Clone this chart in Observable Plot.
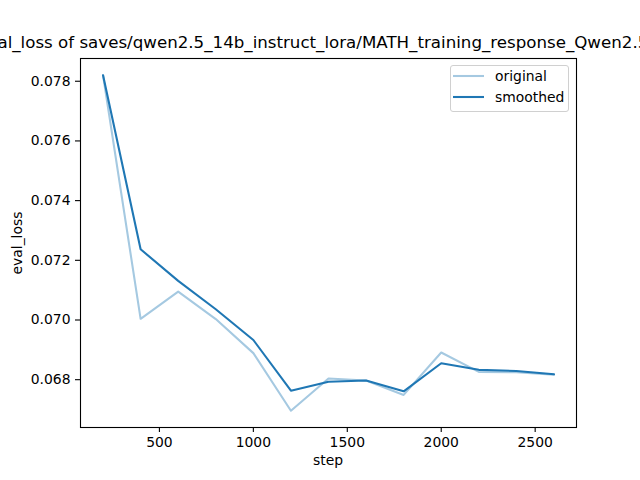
<!DOCTYPE html>
<html>
<head>
<meta charset="utf-8">
<script src="https://cdn.jsdelivr.net/npm/d3@7"></script>
<script src="https://cdn.jsdelivr.net/npm/@observablehq/plot@0.6"></script>
<style>
  html, body { margin: 0; padding: 0; background: #fff; }
  #wrap { position: relative; width: 640px; height: 480px; overflow: hidden; font-family: "DejaVu Sans", sans-serif; color: #000; }
  #title { position: absolute; left: 328px; top: 35.4px; transform: translateX(-50%); white-space: nowrap; font-size: 16.67px; line-height: 1; }
  #xlabel { position: absolute; left: 328px; top: 454px; transform: translateX(-50%); font-size: 13.9px; line-height: 1; white-space: nowrap; }
  #ylabel { position: absolute; left: 18px; top: 242.5px; transform: translate(-50%, -50%) rotate(-90deg); font-size: 13.9px; line-height: 1; white-space: nowrap; }
  #legend { position: absolute; left: 450px; top: 65px; width: 117px; height: 45px; border: 1px solid #d0d0d0; border-radius: 3px; background: rgba(255,255,255,0.8); font-size: 13.9px; }
  .row { position: absolute; left: 0; height: 16px; line-height: 16px; }
  .row svg { position: absolute; left: 2px; top: 0; }
  .row span { position: absolute; left: 44px; top: 0; white-space: nowrap; }
</style>
</head>
<body>
<div id="wrap">
  <div id="chart"></div>
  <div id="title"></div>
  <div id="xlabel"></div>
  <div id="ylabel"></div>
  <div id="legend"></div>
</div>
<script>
const titleText = "eval_loss of saves/qwen2.5_14b_instruct_lora/MATH_training_response_Qwen2.5_7B";
const xLabel = "step";
const yLabel = "eval_loss";
const seriesNames = ["original", "smoothed"];
const seriesColors = ["#a5c9e1", "#1f77b4"];

const steps = [200, 400, 600, 800, 1000, 1200, 1400, 1600, 1800, 2000, 2200, 2400, 2600];
const original = [0.0782, 0.07004, 0.07095, 0.07003, 0.06889, 0.06696, 0.06804, 0.06797, 0.06749, 0.06891, 0.06826, 0.06825, 0.06817];
const smoothed = [0.0782, 0.07237, 0.07131, 0.07036, 0.06933, 0.06763, 0.06793, 0.06797, 0.06761, 0.06855, 0.06833, 0.06829, 0.06818];

const xTicks = [500, 1000, 1500, 2000, 2500];
const yTicks = [0.068, 0.070, 0.072, 0.074, 0.076, 0.078];

const origData = steps.map((s, i) => ({step: s, value: original[i]}));
const smoothData = steps.map((s, i) => ({step: s, value: smoothed[i]}));

const allVals = original.concat(smoothed);
const yMin = d3.min(allVals), yMax = d3.max(allVals);
const yPad = (yMax - yMin) * 0.05;
const xMin = d3.min(steps), xMax = d3.max(steps);
const xPad = (xMax - xMin) * 0.05;

const chart = Plot.plot({
  width: 640,
  height: 480,
  marginLeft: 80,
  marginRight: 64,
  marginTop: 58,
  marginBottom: 53,
  style: { fontFamily: "DejaVu Sans", fontSize: "13.9px", color: "#000", background: "#fff", overflow: "visible" },
  x: { domain: [xMin - xPad, xMax + xPad] },
  y: { domain: [yMin - yPad, yMax + yPad] },
  marks: [
    Plot.line(origData, { x: "step", y: "value", stroke: seriesColors[0], strokeWidth: 2.08 }),
    Plot.line(smoothData, { x: "step", y: "value", stroke: seriesColors[1], strokeWidth: 2.08 }),
    Plot.frame({ stroke: "#000", strokeWidth: 1.1 }),
    Plot.axisX({ ticks: xTicks, tickFormat: d3.format("d"), tickSize: 5, tickPadding: 5, strokeWidth: 1.1, label: null, fill: "#000" }),
    Plot.axisY({ ticks: yTicks, tickFormat: d3.format(".3f"), tickSize: 5, tickPadding: 5, strokeWidth: 1.1, label: null, fill: "#000" })
  ]
});
document.getElementById("chart").appendChild(chart);

document.getElementById("title").textContent = titleText;
document.getElementById("xlabel").textContent = xLabel;
document.getElementById("ylabel").textContent = yLabel;

const legend = document.getElementById("legend");
seriesNames.forEach((name, i) => {
  const row = document.createElement("div");
  row.className = "row";
  row.style.top = (2 + i * 21) + "px";
  row.innerHTML = `<svg width="32" height="16"><line x1="0" x2="31" y1="8" y2="8" stroke="${seriesColors[i]}" stroke-width="2.08"/></svg><span></span>`;
  row.querySelector("span").textContent = name;
  legend.appendChild(row);
});
</script>
</body>
</html>
